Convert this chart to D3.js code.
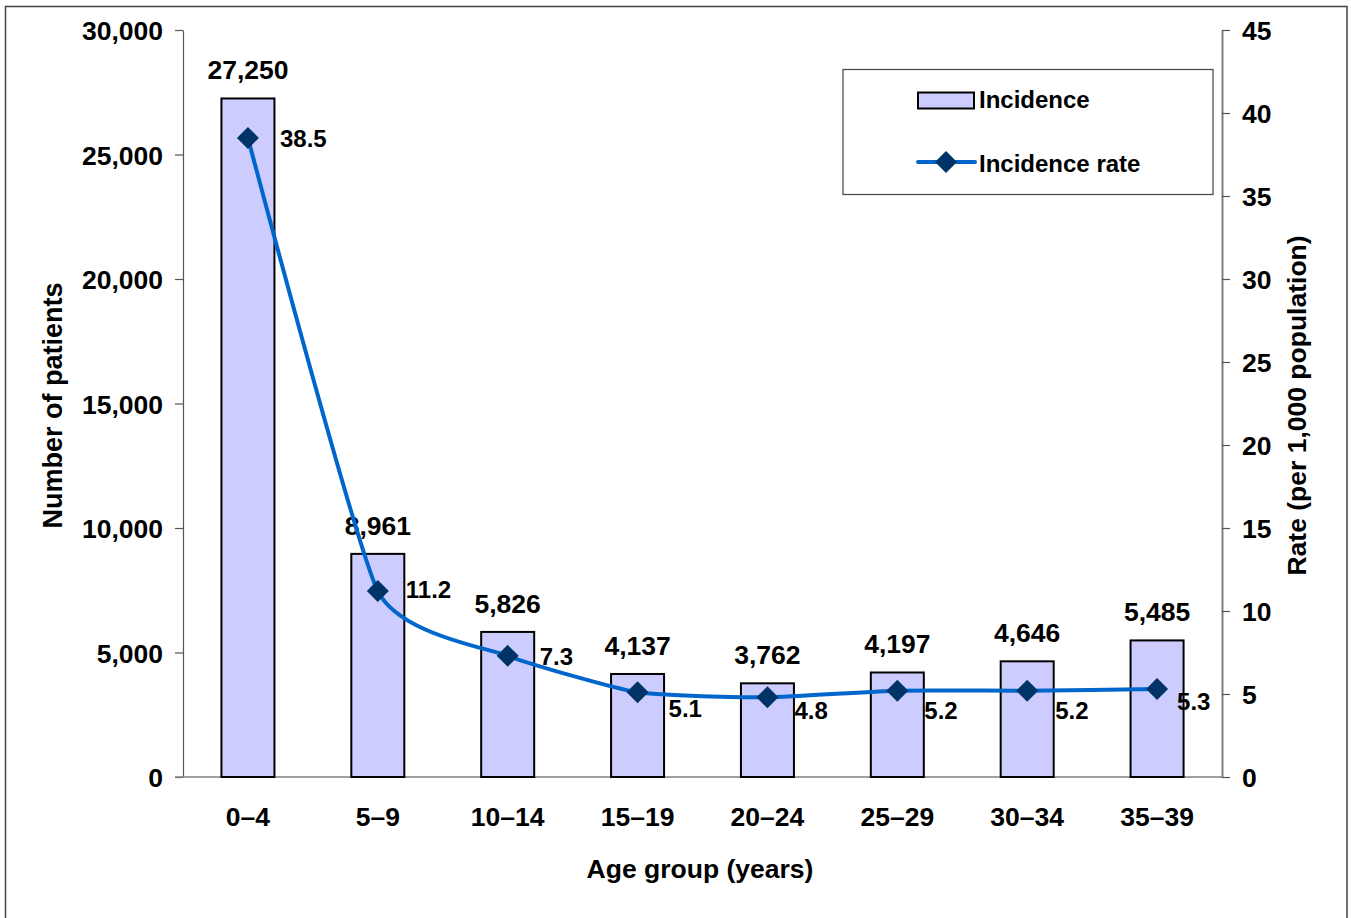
<!DOCTYPE html>
<html>
<head>
<meta charset="utf-8">
<script src="https://cdn.jsdelivr.net/npm/d3@7"></script>
<style>
  html, body { margin: 0; padding: 0; background: #fff; }
  svg { display: block; font-family: "Liberation Sans", Arial, sans-serif; font-weight: bold; }
</style>
</head>
<body>
<svg id="chart" width="1351" height="918"></svg>
<script>
// Age groups and the two series plotted against them
const ageGroups = ["0–4", "5–9", "10–14", "15–19", "20–24", "25–29", "30–34", "35–39"];
const incidence = [27250, 8961, 5826, 4137, 3762, 4197, 4646, 5485];
const incidenceRate = [38.5, 11.2, 7.3, 5.1, 4.8, 5.2, 5.2, 5.3];

// Axis ticks
const patientTicks = [0, 5000, 10000, 15000, 20000, 25000, 30000];
const rateTicks = [0, 5, 10, 15, 20, 25, 30, 35, 40, 45];

// Small nudges for the rate labels so they clear the line
const rateLabelDx = [32, 28, 32, 31, 27, 27, 28, 20];
const rateLabelDy = [9, 7, 9, 25, 22, 28, 28, 21];

const svg = d3.select("#chart");
const m = { left: 183, right: 1222, top: 30, bottom: 777 };
const FS = 26.5;

// Outer frame
svg.append("rect")
  .attr("x", 5.5).attr("y", 6.5)
  .attr("width", 1341.5).attr("height", 920)
  .attr("fill", "#fff").attr("stroke", "#444").attr("stroke-width", 1.5);

const x = d3.scaleBand().domain(ageGroups).range([m.left, m.right]).paddingInner(0).paddingOuter(0);
const yL = d3.scaleLinear().domain([0, 30000]).range([m.bottom, m.top]);
const yR = d3.scaleLinear().domain([0, 45]).range([m.bottom, m.top]);
const fmt = d3.format(",");

// Left axis
const gL = svg.append("g").attr("transform", `translate(${m.left},0)`)
  .call(d3.axisLeft(yL).tickValues(patientTicks).tickFormat(fmt).tickSize(8).tickSizeOuter(0).tickPadding(12));
gL.select(".domain").attr("stroke", "#555").attr("stroke-width", 1.2);
gL.selectAll(".tick line").attr("stroke", "#555").attr("stroke-width", 1.2);
gL.selectAll(".tick text").attr("font-size", FS).attr("fill", "#000").attr("dy", "0.36em");

// Right axis
const gR = svg.append("g").attr("transform", `translate(${m.right},0)`)
  .call(d3.axisRight(yR).tickValues(rateTicks).tickSize(8).tickSizeOuter(0).tickPadding(12));
gR.select(".domain").attr("stroke", "#808080").attr("stroke-width", 2);
gR.selectAll(".tick line").attr("stroke", "#555").attr("stroke-width", 1.2);
gR.selectAll(".tick text").attr("font-size", FS).attr("fill", "#000").attr("dy", "0.36em");

// Bottom axis
const gB = svg.append("g").attr("transform", `translate(0,${m.bottom})`)
  .call(d3.axisBottom(x).tickSize(0).tickPadding(30));
gB.select(".domain").remove();
gB.selectAll(".tick text").attr("font-size", FS).attr("fill", "#000");
svg.append("line")
  .attr("x1", m.left - 8).attr("x2", m.right)
  .attr("y1", m.bottom).attr("y2", m.bottom)
  .attr("stroke", "#808080").attr("stroke-width", 1.5);

// Axis titles
svg.append("text")
  .attr("transform", `translate(62,${(m.top + m.bottom) / 2 + 2}) rotate(-90)`)
  .attr("text-anchor", "middle").attr("font-size", 27).text("Number of patients");
svg.append("text")
  .attr("transform", `translate(1306,${(m.top + m.bottom) / 2 + 2}) rotate(-90)`)
  .attr("text-anchor", "middle").attr("font-size", FS).text("Rate (per 1,000 population)");
svg.append("text")
  .attr("x", 700).attr("y", 878)
  .attr("text-anchor", "middle").attr("font-size", FS).text("Age group (years)");

// Bars
const barW = 53;
const data = ageGroups.map((g, i) => ({ g, n: incidence[i], r: incidenceRate[i], i }));
svg.append("g").selectAll("rect").data(data).join("rect")
  .attr("x", d => x(d.g) + x.bandwidth() / 2 - barW / 2)
  .attr("y", d => yL(d.n))
  .attr("width", barW)
  .attr("height", d => yL(0) - yL(d.n))
  .attr("fill", "#CCCCFF").attr("stroke", "#000").attr("stroke-width", 2);

// Bar value labels
svg.append("g").selectAll("text").data(data).join("text")
  .attr("x", d => x(d.g) + x.bandwidth() / 2)
  .attr("y", d => yL(d.n) - 19)
  .attr("text-anchor", "middle").attr("font-size", FS)
  .text(d => fmt(d.n));

// Rate line
const cx = d => x(d.g) + x.bandwidth() / 2;
svg.append("path").datum(data)
  .attr("d", d3.line().x(cx).y(d => yR(d.r)).curve(d3.curveCardinal.tension(0.5)))
  .attr("fill", "none").attr("stroke", "#0066CC").attr("stroke-width", 4);

const diamond = d3.symbol().type(d3.symbolSquare).size(242);
svg.append("g").selectAll("path").data(data).join("path")
  .attr("d", diamond)
  .attr("transform", d => `translate(${cx(d)},${yR(d.r)}) rotate(45)`)
  .attr("fill", "#003366");

// Rate value labels
svg.append("g").selectAll("text").data(data).join("text")
  .attr("x", d => cx(d) + rateLabelDx[d.i])
  .attr("y", d => yR(d.r) + rateLabelDy[d.i])
  .attr("font-size", 24)
  .text(d => d3.format(".1f")(d.r));

// Legend
const lg = svg.append("g");
lg.append("rect").attr("x", 843).attr("y", 69.5).attr("width", 370).attr("height", 125)
  .attr("fill", "#fff").attr("stroke", "#444").attr("stroke-width", 1.2);
lg.append("rect").attr("x", 918).attr("y", 92.5).attr("width", 56).attr("height", 16)
  .attr("fill", "#CCCCFF").attr("stroke", "#000").attr("stroke-width", 2);
lg.append("text").attr("x", 979).attr("y", 108).attr("font-size", 24).text("Incidence");
lg.append("line").attr("x1", 918).attr("x2", 975).attr("y1", 162).attr("y2", 162)
  .attr("stroke", "#0066CC").attr("stroke-width", 4).attr("stroke-linecap", "round");
lg.append("path").attr("d", diamond).attr("transform", "translate(946,162) rotate(45)").attr("fill", "#003366");
lg.append("text").attr("x", 979).attr("y", 172).attr("font-size", 24).text("Incidence rate");
</script>
</body>
</html>
